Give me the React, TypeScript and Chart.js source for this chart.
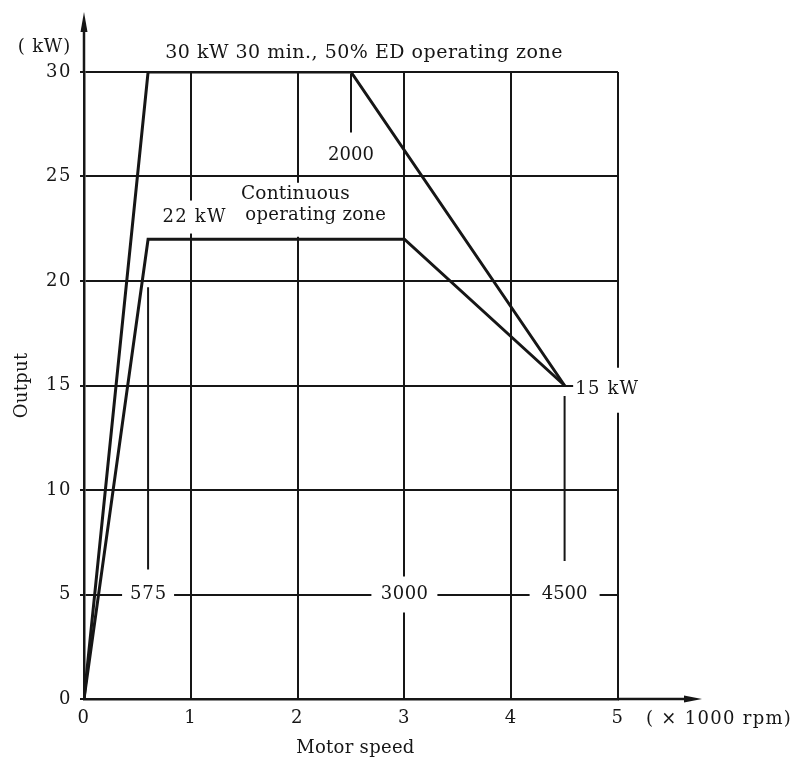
import React, { useEffect, useRef } from "react";
import { Chart, registerables } from "chart.js";

Chart.register(...registerables);

// Axis ticks
const xTickValues = [0, 1, 2, 3, 4, 5]; // ×1000 rpm
const yTickValues = [0, 5, 10, 15, 20, 25, 30]; // kW

// 30 kW 30 min., 50% ED operating zone boundary
const shortSpeed = [0, 0.6, 2.5, 4.5];
const shortOutput = [0, 30, 30, 15];

// Continuous operating zone boundary
const contSpeed = [0, 0.6, 3, 4.5];
const contOutput = [0, 22, 22, 15];

// Dimension marker lines (vertical)
const markerSpeed = [0.6, 2.5, 4.5];
const markerTop = [19.7, 29.9, 14.5];
const markerBottom = [6.2, 27.1, 6.6];

// Annotation texts
const titleText = "30 kW 30 min., 50% ED operating zone";
const speedLabels = ["575", "3000", "4500"];
const speedLabelX = [0.6, 3, 4.5];
const speedLabelY = 5;
const ink = "#161616";
const FAMILY = "'DejaVu Serif'";

const toPts = (xs: number[], ys: number[]) => xs.map((v, i) => ({ x: v, y: ys[i] }));

const spacingPlugin = {
  id: "spacing",
  beforeDraw(chart: any) {
    (chart.ctx as any).letterSpacing = "1.5px";
  },
  beforeLayout(chart: any) {
    (chart.ctx as any).letterSpacing = "1.5px";
  },
};

const annotPlugin = {
  id: "annot",
  beforeDatasetsDraw(chart: any) {
    const { ctx, scales } = chart;
    const x = scales.x, y = scales.y;
    ctx.save();
    ctx.fillStyle = "#ffffff";
    const gap = (cx: number, cy: number, w: number, h: number) => ctx.fillRect(cx - w / 2, cy - h / 2, w, h);
    const widths = [52, 66, 70];
    const heights = [34, 36, 30];
    speedLabels.forEach((_, i) => gap(x.getPixelForValue(speedLabelX[i]), y.getPixelForValue(speedLabelY), widths[i], heights[i]));
    gap(x.getPixelForValue(1.03), y.getPixelForValue(23.06), 40, 33);
    const cl = x.getPixelForValue(1.45);
    ctx.fillRect(cl, y.getPixelForValue(24.7), 145, 54);
    ctx.fillRect(x.getPixelForValue(4.58), y.getPixelForValue(15.85), 72, 45);
    ctx.restore();
  },
  afterDatasetsDraw(chart: any) {
    const { ctx, scales, chartArea } = chart;
    const x = scales.x, y = scales.y;
    ctx.save();
    ctx.fillStyle = ink;
    ctx.strokeStyle = ink;
    ctx.textBaseline = "middle";
    const text = (t: string, px: number, py: number, align: CanvasTextAlign = "center", size = 18, spacing = 0) => {
      ctx.font = `${size}px ${FAMILY}`;
      (ctx as any).letterSpacing = `${spacing}px`;
      ctx.textAlign = align;
      ctx.fillText(t, align === "center" ? px + spacing / 2 : px, py);
    };
    const sp = [1, 0.5, 0];
    speedLabels.forEach((t, i) => text(t, x.getPixelForValue(speedLabelX[i]), y.getPixelForValue(speedLabelY), "center", 18, sp[i]));
    text("2000", x.getPixelForValue(2.5), y.getPixelForValue(26.0), "center", 18, 0);
    text("22 kW", x.getPixelForValue(1.03), y.getPixelForValue(23.06), "center", 18, 1.2);
    text("Continuous", x.getPixelForValue(1.47), y.getPixelForValue(24.16), "left", 18.5, 0.2);
    text("operating zone", x.getPixelForValue(1.51), y.getPixelForValue(23.16), "left", 18, 0.3);
    text("15 kW", x.getPixelForValue(4.6), y.getPixelForValue(14.8), "left", 18, 1.2);
    text(titleText, x.getPixelForValue(2.62), chartArea.top - 19, "center", 19, 0.5);
    text("( kW)", chartArea.left - 40, chartArea.top - 25, "center", 18, 0.8);
    text("( × 1000 rpm)", chartArea.right + 28, chartArea.bottom + 20, "left", 18, 1.3);
    text("Motor speed", x.getPixelForValue(2.54), chartArea.bottom + 49, "center", 18, 0.3);
    ctx.save();
    ctx.translate(22, y.getPixelForValue(15));
    ctx.rotate(-Math.PI / 2);
    text("Output", 0, 0, "center", 18, 0.3);
    ctx.restore();

    // axis arrows
    ctx.lineWidth = 2.5;
    const x0 = chartArea.left, y0 = chartArea.bottom;
    ctx.beginPath();
    ctx.moveTo(chartArea.right, y0);
    ctx.lineTo(chartArea.right + 70, y0);
    ctx.moveTo(x0, chartArea.top);
    ctx.lineTo(x0, chartArea.top - 45);
    ctx.stroke();
    ctx.beginPath();
    ctx.moveTo(chartArea.right + 84, y0);
    ctx.lineTo(chartArea.right + 66, y0 - 3.5);
    ctx.lineTo(chartArea.right + 66, y0 + 3.5);
    ctx.closePath();
    ctx.fill();
    ctx.beginPath();
    ctx.moveTo(x0, chartArea.top - 60);
    ctx.lineTo(x0 - 3.5, chartArea.top - 40);
    ctx.lineTo(x0 + 3.5, chartArea.top - 40);
    ctx.closePath();
    ctx.fill();
    ctx.restore();
  },
};

export default function App() {
  const ref = useRef<HTMLCanvasElement | null>(null);
  useEffect(() => {
    if (!ref.current) return;
    const markerSets = markerSpeed.map((s, i) => ({
      data: [{ x: s, y: markerTop[i] }, { x: s, y: markerBottom[i] }],
      borderColor: ink,
      borderWidth: 2,
      pointRadius: 0,
      fill: false,
    }));
    const chart = new Chart(ref.current, {
      type: "line",
      data: {
        datasets: [
          { data: toPts(shortSpeed, shortOutput), borderColor: ink, borderWidth: 3, pointRadius: 0, fill: false, tension: 0 },
          { data: toPts(contSpeed, contOutput), borderColor: ink, borderWidth: 3, pointRadius: 0, fill: false, tension: 0 },
          ...markerSets,
        ],
      },
      options: {
        animation: false,
        responsive: false,
        devicePixelRatio: 1,
        layout: { padding: { left: 0, top: 72, right: 176, bottom: 0 } },
        plugins: { legend: { display: false }, tooltip: { enabled: false }, title: { display: false } },
        scales: {
          x: {
            type: "linear",
            min: 0,
            max: 5,
            afterBuildTicks: (s: any) => { s.ticks = xTickValues.map((v) => ({ value: v })); },
            afterFit: (s: any) => { s.height = 63; },
            grid: { color: ink, lineWidth: 2, drawTicks: false },
            border: { display: true, color: ink, width: 2.5 },
            ticks: { color: ink, font: { family: "DejaVu Serif", size: 18 }, padding: 9, maxRotation: 0 },
          },
          y: {
            type: "linear",
            min: 0,
            max: 30,
            afterBuildTicks: (s: any) => { s.ticks = yTickValues.map((v) => ({ value: v })); },
            afterFit: (s: any) => { s.width = 84; },
            grid: { color: ink, lineWidth: 2, drawTicks: true, tickLength: 4 },
            border: { display: true, color: ink, width: 2.5 },
            ticks: { color: ink, font: { family: "DejaVu Serif", size: 18 }, padding: 8 },
          },
        },
      },
      plugins: [spacingPlugin, annotPlugin],
    } as any);
    return () => chart.destroy();
  }, []);
  return (
    <div style={{ position: "absolute", left: 0, top: 0, width: 794, height: 762, background: "#fff" }}>
      <canvas ref={ref} width={794} height={762} />
    </div>
  );
}
